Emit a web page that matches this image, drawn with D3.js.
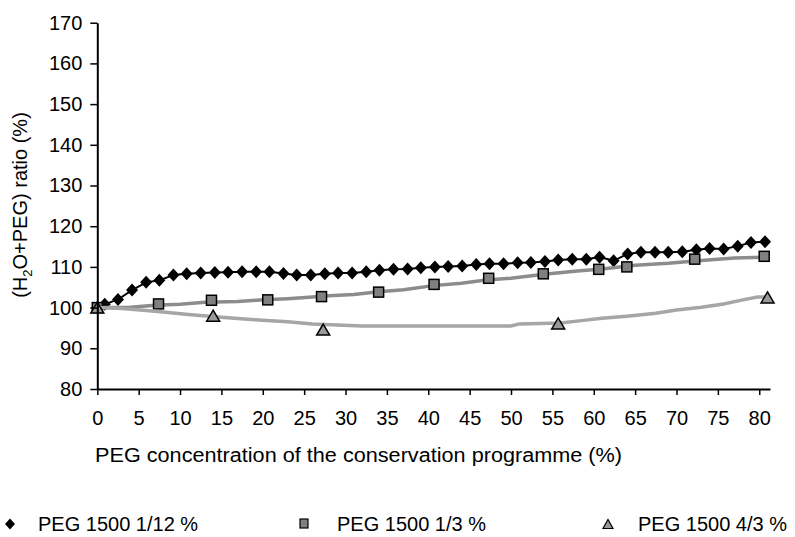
<!DOCTYPE html>
<html>
<head>
<meta charset="utf-8">
<script src="https://cdn.jsdelivr.net/npm/d3@7"></script>
<style>
html,body{margin:0;padding:0;background:#fff;}
svg{display:block;font-family:"Liberation Sans",Arial,sans-serif;}
</style>
</head>
<body>
<svg id="chart" width="795" height="537"></svg>
<script>
// ---- data ----
const xTicks = [0,5,10,15,20,25,30,35,40,45,50,55,60,65,70,75,80];
const yTicks = [80,90,100,110,120,130,140,150,160,170];

const diamondX = [0,0.9,2.5,4.2,5.9,7.5,9.2,10.8,12.5,14.2,15.8,17.5,19.2,20.8,22.5,24.1,25.8,27.5,29.1,30.8,32.5,34.1,35.8,37.5,39.1,40.8,42.4,44.1,45.8,47.4,49.1,50.8,52.4,54.1,55.7,57.4,59.1,60.7,62.4,64.1,65.7,67.4,69.0,70.7,72.4,74.0,75.7,77.4,79.0,80.7];
const diamondY = [100,100.8,102.0,104.3,106.2,106.7,108.0,108.3,108.5,108.6,108.7,108.8,108.8,108.8,108.4,108.0,108.0,108.3,108.5,108.5,108.8,109.2,109.4,109.5,109.8,110.0,110.1,110.2,110.6,110.8,110.8,111.0,111.1,111.3,111.7,111.9,111.9,112.4,111.5,113.2,113.6,113.6,113.6,113.7,114.2,114.5,114.4,115.1,116.0,116.2];

const squareX = [0,7.4,13.8,20.6,27.1,34.0,40.7,47.3,53.9,60.6,64.0,72.2,80.6];
const squareY = [100,100.9,101.8,101.9,102.7,103.8,105.7,107.2,108.3,109.4,110.0,111.9,112.6];
const squareLineX = [0,4,7,10,13,17,20,23,26,28,31,34,37,40.6,44,47,50,54,58,61,65,69,73,77,80.8];
const squareLineY = [100,100.1,100.6,100.8,101.3,101.5,101.9,102.2,102.6,102.9,103.2,103.9,104.4,105.4,106.0,106.8,107.2,108.2,109.0,109.5,110.4,110.9,111.6,112.2,112.4];

const triangleX = [0,14.0,27.3,55.7,81.0];
const triangleY = [100,98.0,94.6,96.1,102.5];
const triangleLineX = [0,3,7,11,15,19,23,26,29,32,50,51,56,58.5,61,64,67.5,70,73,75.7,78,79.8,80.8];
const triangleLineY = [100,99.8,99.1,98.3,97.6,97.0,96.5,96.0,95.7,95.5,95.5,96.0,96.2,96.8,97.4,97.9,98.6,99.4,100.1,100.9,101.9,102.6,102.6];

const seriesNames = ["PEG 1500 1/12 %","PEG 1500 1/3 %","PEG 1500 4/3 %"];

// ---- layout ----
const svg = d3.select("#chart");
const x = d3.scaleLinear().domain([0, 81.3]).range([97.3, 770]);
const y = d3.scaleLinear().domain([80, 170]).range([389, 22.7]);
const font = 20;

const line = d3.line().x(d => x(d[0])).y(d => y(d[1]));
const zip = (a, b) => a.map((v, i) => [v, b[i]]);
const diamond = (cx, cy, w, h) => `M${cx},${cy - h/2}L${cx + w/2},${cy}L${cx},${cy + h/2}L${cx - w/2},${cy}Z`;
const tri = (cx, cy, w, h) => `M${cx},${cy - h/2}L${cx + w/2},${cy + h/2}L${cx - w/2},${cy + h/2}Z`;

// series 1
svg.append("path").datum(zip(diamondX, diamondY)).attr("d", line)
  .attr("fill","none").attr("stroke","#000").attr("stroke-width",2);
svg.append("g").selectAll("path").data(zip(diamondX, diamondY)).join("path")
  .attr("d", d => diamond(x(d[0]), y(d[1]), 12, 13))
  .attr("fill","#000");

// series 2
svg.append("path").datum(zip(squareLineX, squareLineY)).attr("d", line)
  .attr("fill","none").attr("stroke","#8c8c8c").attr("stroke-width",3.5);
svg.append("g").selectAll("rect").data(zip(squareX, squareY)).join("rect")
  .attr("x", d => x(d[0]) - 5).attr("y", d => y(d[1]) - 5)
  .attr("width",10).attr("height",10)
  .attr("fill","#808080").attr("stroke","#000").attr("stroke-width",1.5);

// series 3
svg.append("path").datum(zip(triangleLineX, triangleLineY)).attr("d", line)
  .attr("fill","none").attr("stroke","#a6a6a6").attr("stroke-width",3.5);
svg.append("g").selectAll("path").data(zip(triangleX, triangleY)).join("path")
  .attr("d", d => tri(x(d[0]), y(d[1]), 13, 11))
  .attr("fill","#999").attr("stroke","#000").attr("stroke-width",1.5);

// axes
const yAxis = d3.axisLeft(y).tickValues(yTicks).tickSize(7).tickPadding(8).tickSizeOuter(0);
const gy = svg.append("g").attr("transform","translate(97.3,0)").call(yAxis);
const xAxis = d3.axisBottom(x).tickValues(xTicks).tickSize(6).tickPadding(16).tickSizeOuter(0);
const gx = svg.append("g").attr("transform","translate(0,389)").call(xAxis);
[gx, gy].forEach(g => {
  g.select(".domain").attr("stroke","#000").attr("stroke-width",2);
  g.selectAll(".tick line").attr("stroke","#000").attr("stroke-width",1.5);
  g.selectAll(".tick text").attr("fill","#000").style("font-size", font + "px")
    .style("font-family","'Liberation Sans',Arial,sans-serif");
});

// axis titles
svg.append("text").attr("x", 95).attr("y", 462)
  .attr("textLength", 527).attr("lengthAdjust","spacingAndGlyphs")
  .style("font-size", font + "px").attr("fill","#000")
  .text("PEG concentration of the conservation programme (%)");

const yt = svg.append("text").attr("transform","translate(27,205) rotate(-90)")
  .attr("text-anchor","middle").style("font-size", font + "px").attr("fill","#000");
yt.append("tspan").text("(H");
yt.append("tspan").text("2").attr("dy", 5).style("font-size","13px");
yt.append("tspan").text("O+PEG) ratio (%)").attr("dy", -5);

// legend
const legY = 524;
const legMarkX = [10, 304, 608];
const legTextX = [38, 337, 638];
const lg = svg.append("g");
lg.append("path").attr("d", diamond(legMarkX[0], legY, 10, 11)).attr("fill","#000");
lg.append("rect").attr("x", legMarkX[1]-4).attr("y", legY-5).attr("width",8).attr("height",9)
  .attr("fill","#808080").attr("stroke","#000").attr("stroke-width",1.2);
lg.append("path").attr("d", tri(legMarkX[2], legY, 10, 9))
  .attr("fill","#999").attr("stroke","#000").attr("stroke-width",1.2);
seriesNames.forEach((n, i) => {
  lg.append("text").attr("x", legTextX[i]).attr("y", legY + 7)
    .style("font-size", font + "px").attr("fill","#000").text(n);
});
</script>
</body>
</html>
